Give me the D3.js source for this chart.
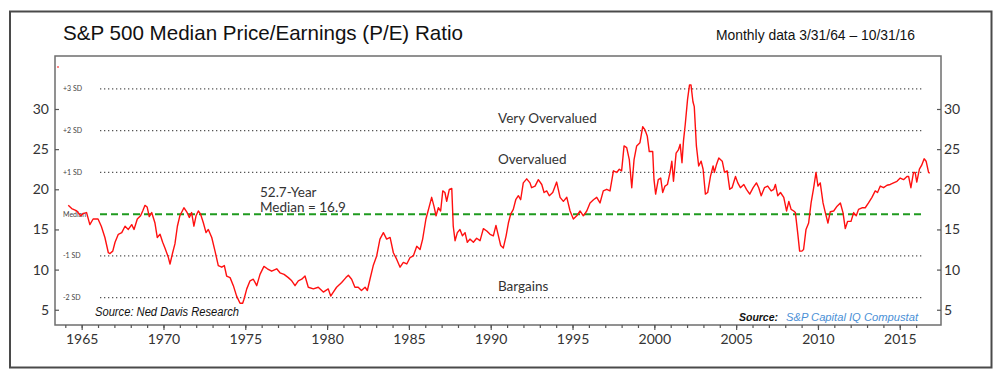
<!DOCTYPE html>
<html>
<head>
<meta charset="utf-8">
<script src="https://cdnjs.cloudflare.com/ajax/libs/d3/7.8.5/d3.min.js"></script>
<style>
  body { margin: 0; background: #fff; }
  svg { display: block; }
</style>
</head>
<body>
<svg id="chart" width="1000" height="377"></svg>
<script>
// monthly P/E readings (decimal year, ratio)
var dates = [
  1964.18, 1964.39, 1964.70, 1964.94, 1965.10, 1965.30, 1965.50, 1965.70, 1966.00, 1966.20,
  1966.42, 1966.63, 1966.73, 1966.90, 1967.04, 1967.24, 1967.45, 1967.65, 1967.85, 1968.06,
  1968.20, 1968.40, 1968.60, 1968.73, 1968.87, 1969.00, 1969.13, 1969.28, 1969.48, 1969.62,
  1969.79, 1969.95, 1970.09, 1970.30, 1970.40, 1970.56, 1970.70, 1970.85, 1971.00, 1971.15,
  1971.25, 1971.42, 1971.58, 1971.72, 1971.86, 1971.99, 1972.13, 1972.27, 1972.44, 1972.60,
  1972.74, 1972.95, 1973.15, 1973.35, 1973.56, 1973.72, 1973.86, 1974.07, 1974.27, 1974.47,
  1974.68, 1974.84, 1974.92, 1975.09, 1975.29, 1975.49, 1975.70, 1975.90, 1976.14, 1976.35,
  1976.61, 1976.92, 1977.12, 1977.37, 1977.63, 1977.84, 1978.04, 1978.24, 1978.45, 1978.65,
  1978.85, 1979.16, 1979.46, 1979.77, 1980.07, 1980.22, 1980.38, 1980.58, 1980.89, 1981.15,
  1981.30, 1981.50, 1981.70, 1981.90, 1982.10, 1982.32, 1982.46, 1982.62, 1982.82, 1983.03,
  1983.23, 1983.44, 1983.64, 1983.85, 1984.05, 1984.25, 1984.46, 1984.66, 1984.87, 1985.07,
  1985.27, 1985.48, 1985.68, 1985.84, 1986.04, 1986.25, 1986.39, 1986.53, 1986.66, 1986.80,
  1986.94, 1987.07, 1987.20, 1987.31, 1987.47, 1987.62, 1987.71, 1987.82, 1987.96, 1988.12,
  1988.27, 1988.43, 1988.57, 1988.73, 1988.94, 1989.14, 1989.35, 1989.55, 1989.76, 1989.96,
  1990.16, 1990.32, 1990.47, 1990.61, 1990.77, 1990.94, 1991.08, 1991.22, 1991.38, 1991.53,
  1991.69, 1991.83, 1991.99, 1992.20, 1992.40, 1992.50, 1992.71, 1992.91, 1993.12, 1993.26,
  1993.42, 1993.58, 1993.79, 1994.03, 1994.24, 1994.44, 1994.65, 1994.85, 1995.05, 1995.26,
  1995.46, 1995.66, 1995.87, 1996.07, 1996.28, 1996.48, 1996.68, 1996.88, 1997.09, 1997.29,
  1997.50, 1997.70, 1997.86, 1998.00, 1998.15, 1998.31, 1998.47, 1998.62, 1998.76, 1998.92,
  1999.12, 1999.29, 1999.43, 1999.57, 1999.69, 1999.90, 1999.98, 2000.08, 2000.24, 2000.39,
  2000.51, 2000.65, 2000.80, 2000.96, 2001.07, 2001.17, 2001.33, 2001.47, 2001.58, 2001.69,
  2001.78, 2001.89, 2002.03, 2002.15, 2002.24, 2002.36, 2002.44, 2002.57, 2002.71, 2002.86,
  2002.98, 2003.12, 2003.26, 2003.43, 2003.59, 2003.67, 2003.80, 2003.94, 2004.15, 2004.29,
  2004.45, 2004.61, 2004.75, 2004.96, 2005.10, 2005.26, 2005.47, 2005.63, 2005.83, 2006.04,
  2006.24, 2006.38, 2006.53, 2006.73, 2006.93, 2007.14, 2007.30, 2007.40, 2007.54, 2007.71,
  2007.91, 2008.08, 2008.22, 2008.36, 2008.52, 2008.62, 2008.76, 2008.88, 2009.02, 2009.12,
  2009.27, 2009.43, 2009.58, 2009.74, 2009.88, 2010.00, 2010.14, 2010.31, 2010.45, 2010.61,
  2010.75, 2010.96, 2011.17, 2011.37, 2011.53, 2011.67, 2011.81, 2012.02, 2012.18, 2012.34,
  2012.48, 2012.69, 2012.89, 2013.09, 2013.30, 2013.50, 2013.64, 2013.81, 2014.01, 2014.22,
  2014.42, 2014.62, 2014.83, 2015.03, 2015.23, 2015.44, 2015.54, 2015.68, 2015.84, 2015.94,
  2016.04, 2016.20, 2016.34, 2016.49, 2016.61, 2016.76, 2016.83
];
var peRatio = [
  18.0, 17.6, 17.3, 16.7, 17.0, 17.1, 15.6, 16.3, 16.3, 15.4,
  14.0, 12.1, 12.0, 12.3, 13.4, 14.4, 14.6, 15.4, 15.0, 15.6,
  15.0, 16.3, 16.7, 17.3, 18.0, 17.8, 16.6, 17.1, 15.8, 14.0,
  14.4, 13.4, 12.7, 11.5, 10.7, 12.1, 13.2, 15.4, 16.7, 17.3,
  17.7, 17.2, 16.5, 17.1, 15.4, 16.7, 17.3, 16.9, 15.8, 14.6,
  15.0, 14.0, 12.3, 10.5, 10.3, 10.5, 9.2, 9.0, 8.0, 6.7,
  5.8, 5.8, 6.3, 7.6, 8.6, 8.8, 8.0, 9.4, 10.4, 10.1,
  9.8, 10.1, 9.6, 9.4, 9.0, 8.6, 8.0, 8.6, 8.8, 9.2,
  7.8, 7.6, 7.8, 7.2, 7.6, 6.7, 7.2, 7.8, 8.4, 9.0,
  9.3, 8.8, 7.8, 7.8, 7.4, 7.8, 7.4, 8.8, 10.5, 11.7,
  13.8, 14.6, 13.8, 14.0, 12.1, 11.3, 10.3, 10.9, 10.7, 11.5,
  11.7, 12.9, 12.5, 13.8, 16.3, 17.9, 19.0, 17.9, 16.7, 17.7,
  17.3, 19.8, 19.6, 18.5, 20.0, 20.1, 15.4, 13.6, 14.6, 15.0,
  14.2, 14.6, 13.4, 13.8, 13.4, 13.9, 13.6, 15.1, 14.8, 14.4,
  14.2, 15.5, 14.2, 13.0, 12.7, 14.2, 15.8, 16.9, 17.5, 18.7,
  19.2, 18.7, 20.8, 21.3, 20.8, 20.2, 20.4, 21.2, 20.6, 19.6,
  19.8, 19.2, 19.6, 20.9, 19.0, 18.5, 19.0, 17.3, 16.3, 16.7,
  17.3, 16.7, 17.3, 18.3, 18.7, 19.0, 18.3, 19.8, 20.0, 19.8,
  22.3, 22.1, 22.5, 22.3, 25.4, 25.2, 23.7, 20.2, 23.7, 25.4,
  25.8, 27.8, 27.4, 26.6, 24.7, 24.7, 21.2, 19.4, 21.2, 21.4,
  19.6, 20.4, 20.6, 22.1, 23.5, 21.0, 24.5, 24.9, 25.6, 23.3,
  26.0, 28.1, 31.2, 33.0, 33.0, 30.9, 30.3, 25.4, 22.9, 23.5,
  22.5, 19.4, 19.6, 21.6, 22.9, 22.1, 23.1, 23.9, 23.5, 22.1,
  22.3, 20.0, 20.2, 21.6, 20.8, 20.2, 20.6, 20.0, 19.4, 20.2,
  20.8, 20.2, 19.2, 20.2, 20.4, 19.8, 20.0, 20.6, 19.2, 19.6,
  19.0, 17.3, 18.5, 17.5, 17.3, 17.1, 14.6, 12.3, 12.3, 12.5,
  15.0, 15.8, 18.3, 20.2, 22.1, 20.4, 20.8, 18.3, 17.1, 15.8,
  17.2, 17.3, 17.9, 18.3, 17.1, 15.1, 16.0, 16.0, 17.1, 16.7,
  17.5, 17.7, 17.7, 18.3, 19.0, 19.8, 19.6, 20.4, 20.2, 20.5,
  20.6, 20.8, 21.0, 21.4, 21.2, 21.6, 21.6, 20.2, 22.1, 22.1,
  20.9, 22.5, 23.0, 23.8, 23.5, 22.1, 22.0
];

var medianPE = 16.9;
var sdLevels = [32.5, 27.3, 22.1, 16.9, 11.7, 6.5];
var sdLabels = ["+3 SD", "+2 SD", "+1 SD", "Median", "-1 SD", "-2 SD"];
var yTicks = [5, 10, 15, 20, 25, 30];
var yearLabels = [1965, 1970, 1975, 1980, 1985, 1990, 1995, 2000, 2005, 2010, 2015];

var svg = d3.select("#chart");
var plot = { left: 55, right: 941, top: 56, bottom: 325 };

var x = d3.scaleLinear().domain([1963.37, 2017.52]).range([plot.left, plot.right]);
var y = d3.scaleLinear().domain([3.1, 36.6]).range([plot.bottom, plot.top]);

// outer frame
svg.append("rect")
  .attr("x", 10).attr("y", 11.5)
  .attr("width", 981.5).attr("height", 356)
  .attr("fill", "none")
  .attr("stroke", "#4a4a4a")
  .attr("stroke-width", 2);

svg.append("text")
  .text("S&P 500 Median Price/Earnings (P/E) Ratio")
  .attr("x", 63).attr("y", 40)
  .attr("textLength", 400).attr("lengthAdjust", "spacingAndGlyphs")
  .style("font-family", "Liberation Sans, Arial, sans-serif")
  .style("font-size", "21px")
  .style("fill", "#111");

svg.append("text")
  .text("Monthly data 3/31/64 \u2013 10/31/16")
  .attr("x", 716).attr("y", 39.5)
  .attr("textLength", 199).attr("lengthAdjust", "spacingAndGlyphs")
  .style("font-family", "Liberation Sans, Arial, sans-serif")
  .style("font-size", "14px")
  .style("fill", "#111");

// plot frame
svg.append("rect")
  .attr("x", plot.left).attr("y", plot.top)
  .attr("width", plot.right - plot.left).attr("height", plot.bottom - plot.top)
  .attr("fill", "none")
  .attr("stroke", "#6e6e6e")
  .attr("stroke-width", 1.5);

// SD reference lines
var lineStart = 100, lineEnd = 922;
svg.append("g")
  .selectAll("line")
  .data(sdLevels)
  .enter()
  .append("line")
    .attr("x1", lineStart).attr("x2", lineEnd)
    .attr("y1", function(d) { return y(d); })
    .attr("y2", function(d) { return y(d); })
    .attr("stroke", function(d) { return d === medianPE ? "#1f9a1f" : "#555"; })
    .attr("stroke-width", function(d) { return d === medianPE ? 2 : 1.3; })
    .attr("stroke-dasharray", function(d) { return d === medianPE ? "7,4" : "1.3,2.7"; });

svg.append("g")
  .selectAll("text")
  .data(sdLevels)
  .enter()
  .append("text")
    .text(function(d, i) { return sdLabels[i]; })
    .attr("x", 63)
    .attr("y", function(d) { return y(d) + 2.5; })
    .style("font-family", "Lato, sans-serif")
    .style("font-size", "7px")
    .style("fill", "#444");

// zone labels
var zoneFont = function(sel) {
  sel.style("font-family", "Lato, sans-serif")
    .style("font-size", "13.5px")
    .style("fill", "#333");
};
svg.append("text").text("Very Overvalued").attr("x", 498).attr("y", 123).call(zoneFont);
svg.append("text").text("Overvalued").attr("x", 498).attr("y", 164).call(zoneFont);
svg.append("text").text("Bargains").attr("x", 498).attr("y", 291).call(zoneFont);
svg.append("text").text("52.7-Year").attr("x", 260).attr("y", 197).call(zoneFont);
svg.append("text").text("Median = 16.9").attr("x", 260).attr("y", 212).call(zoneFont);

// sources
svg.append("text")
  .text("Source: Ned Davis Research")
  .attr("x", 95).attr("y", 316)
  .attr("textLength", 144).attr("lengthAdjust", "spacingAndGlyphs")
  .style("font-family", "Liberation Sans, Arial, sans-serif")
  .style("font-style", "italic")
  .style("font-size", "12px")
  .style("fill", "#111");

svg.append("text")
  .text("Source:")
  .attr("x", 739).attr("y", 321)
  .attr("textLength", 39).attr("lengthAdjust", "spacingAndGlyphs")
  .style("font-family", "Liberation Sans, Arial, sans-serif")
  .style("font-style", "italic")
  .style("font-weight", "bold")
  .style("font-size", "11px")
  .style("fill", "#111");

svg.append("text")
  .text("S&P Capital IQ Compustat")
  .attr("x", 786).attr("y", 321)
  .attr("textLength", 132).attr("lengthAdjust", "spacingAndGlyphs")
  .style("font-family", "Liberation Sans, Arial, sans-serif")
  .style("font-style", "italic")
  .style("font-size", "11px")
  .style("fill", "#4a8fd6");

// axes
var axisStyle = function(g) {
  g.select(".domain").remove();
  g.selectAll("line").attr("stroke", "#555").attr("stroke-width", 1.2);
  g.selectAll("text")
    .style("font-family", "Lato, sans-serif")
    .style("font-size", "14px")
    .style("fill", "#333");
};

svg.append("g")
  .attr("transform", "translate(" + plot.left + ",0)")
  .call(d3.axisLeft(y).tickValues(yTicks).tickSizeInner(-4).tickPadding(6).tickFormat(d3.format("d")))
  .call(axisStyle);

svg.append("g")
  .attr("transform", "translate(" + plot.right + ",0)")
  .call(d3.axisRight(y).tickValues(yTicks).tickSizeInner(-4).tickPadding(3).tickFormat(d3.format("d")))
  .call(axisStyle);

svg.append("g")
  .attr("transform", "translate(0," + plot.bottom + ")")
  .call(d3.axisBottom(x).tickValues(d3.range(1964, 2017)).tickSize(3).tickFormat(""))
  .call(axisStyle);

svg.append("g")
  .attr("transform", "translate(0," + plot.bottom + ")")
  .call(d3.axisBottom(x).tickValues(yearLabels).tickSize(5).tickPadding(4).tickFormat(d3.format("d")))
  .call(axisStyle);

// P/E line
var line = d3.line()
  .x(function(d, i) { return x(dates[i]); })
  .y(function(d) { return y(d); });

svg.append("path")
  .datum(peRatio)
  .attr("d", line)
  .attr("fill", "none")
  .attr("stroke", "#ff1010")
  .attr("stroke-width", 1.4)
  .attr("stroke-linejoin", "round");

// stray legend mark in the corner
svg.append("line")
  .attr("x1", plot.left + 2).attr("x2", plot.left + 4)
  .attr("y1", plot.top + 11).attr("y2", plot.top + 11)
  .attr("stroke", "#ff1010")
  .attr("stroke-width", 1);
</script>
</body>
</html>
